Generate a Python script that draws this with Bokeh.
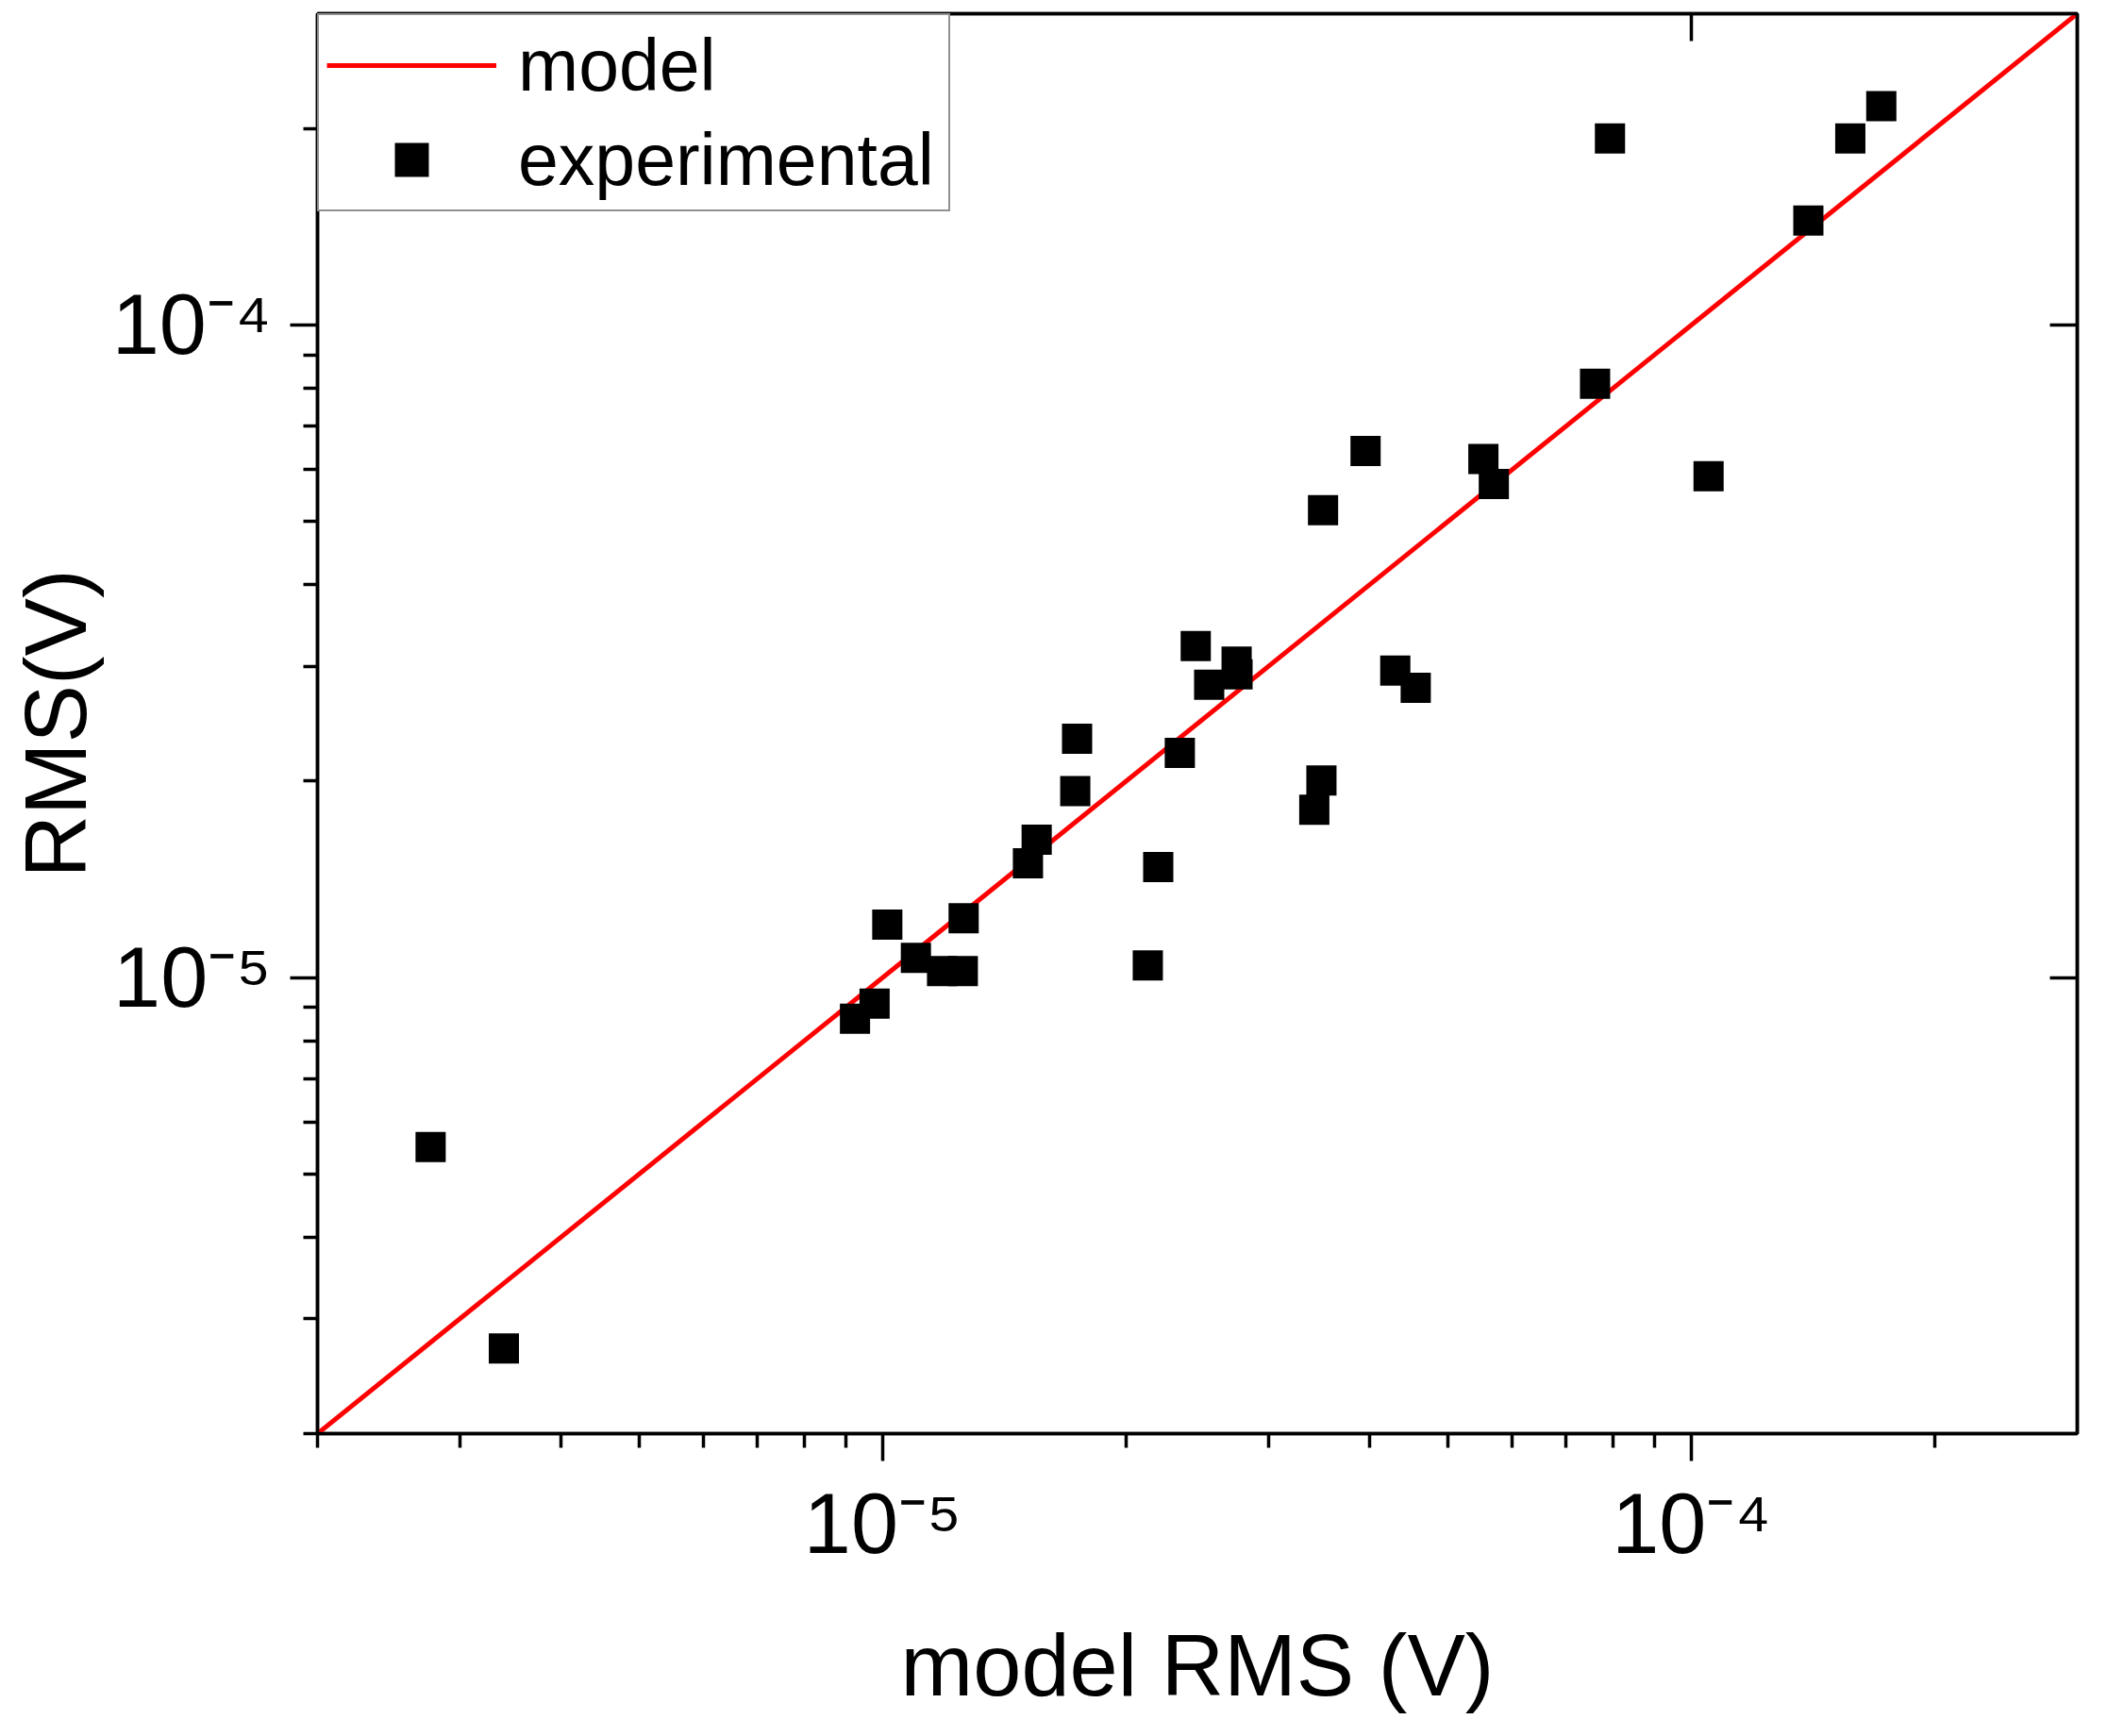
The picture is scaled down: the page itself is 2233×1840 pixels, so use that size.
from bokeh.plotting import figure
from bokeh.models import (Range1d, LogAxis, LogScale, FixedTicker, CustomJSTickFormatter,
                          Legend, LegendItem)
from bokeh.embed import file_html
from bokeh.resources import INLINE

# ---------------- data ----------------
model_x = [2e-6, 3e-4]
model_y = [2e-6, 3e-4]

exp_model_rms = [2.76e-6, 3.40e-6, 9.24e-6, 9.77e-6, 1.013e-5, 1.099e-5, 1.184e-5,
                 1.256e-5, 1.259e-5, 1.512e-5, 1.55e-5, 1.73e-5, 1.739e-5, 2.127e-5,
                 2.191e-5, 2.33e-5, 2.438e-5, 2.533e-5, 2.739e-5, 2.746e-5, 3.417e-5,
                 3.487e-5, 3.503e-5, 3.954e-5, 4.303e-5, 4.561e-5, 5.53e-5, 5.697e-5,
                 7.6e-5, 7.93e-5, 1.05e-4, 1.395e-4, 1.572e-4, 1.717e-4]
exp_rms = [5.50e-6, 2.70e-6, 8.65e-6, 9.12e-6, 1.205e-5, 1.072e-5, 1.023e-5,
           1.023e-5, 1.233e-5, 1.497e-5, 1.627e-5, 1.93e-5, 2.323e-5, 1.044e-5,
           1.477e-5, 2.21e-5, 3.22e-5, 2.81e-5, 3.05e-5, 2.914e-5, 1.808e-5,
           2.004e-5, 5.203e-5, 6.41e-5, 2.953e-5, 2.779e-5, 6.23e-5, 5.706e-5,
           8.13e-5, 1.932e-4, 5.866e-5, 1.446e-4, 1.932e-4, 2.164e-4]

axis_min = 2e-6
axis_max = 3e-4
major_tick_values = [1e-5, 1e-4]
major_tick_labels = ["10\u207b\u2075", "10\u207b\u2074"]
minor_multipliers = [2, 3, 4, 5, 6, 7, 8, 9]
minor_decades = [1e-6, 1e-5, 1e-4]

x_label = "model RMS (V)"
y_label = "RMS(V)"
legend_labels = ["model", "experimental"]

FONT = "Liberation Sans"

minor_ticks = [m * d for d in minor_decades for m in minor_multipliers
               if axis_min * 0.999 <= m * d <= axis_max * 1.001]

# ---------------- figure ----------------
p = figure(width=2217, height=1824, x_axis_type=None, y_axis_type=None,
           x_range=Range1d(axis_min, axis_max), y_range=Range1d(axis_min, axis_max),
           output_backend="svg", toolbar_location=None,
           min_border_left=336, min_border_right=16, min_border_top=14,
           min_border_bottom=305)
p.x_scale = LogScale()
p.y_scale = LogScale()
p.background_fill_color = "white"
p.border_fill_color = "white"
p.outline_line_color = "black"
p.outline_line_width = 3.5

label_fmt = CustomJSTickFormatter(args=dict(vals=major_tick_values, labs=major_tick_labels),
                                  code="""
for (let i = 0; i < vals.length; i++) {
  if (Math.abs(tick / vals[i] - 1) < 1e-6) { return labs[i]; }
}
return '';
""")
empty_fmt = CustomJSTickFormatter(code="return '';")


def make_axis(labeled, title=None):
    ax = LogAxis(ticker=FixedTicker(ticks=major_tick_values,
                                    minor_ticks=minor_ticks if labeled else []),
                 formatter=label_fmt if labeled else empty_fmt)
    ax.axis_line_color = "black"
    ax.axis_line_width = 3.5
    ax.major_tick_line_color = "black"
    ax.major_tick_line_width = 3.5
    ax.minor_tick_line_color = "black"
    ax.minor_tick_line_width = 3.5
    if labeled:
        ax.major_tick_out = 29
        ax.major_tick_in = 0
        ax.minor_tick_out = 15
        ax.minor_tick_in = 0
        ax.major_label_text_font = FONT
        ax.major_label_text_font_size = "90px"
        ax.major_label_text_color = "black"
        ax.axis_label = title
        ax.axis_label_text_font = FONT
        ax.axis_label_text_font_size = "92px"
        ax.axis_label_text_font_style = "normal"
        ax.axis_label_text_color = "black"
    else:
        ax.major_tick_out = 0
        ax.major_tick_in = 29
        ax.minor_tick_out = 0
        ax.minor_tick_in = 0
        ax.major_label_standoff = 0
        ax.major_label_text_font_size = "1px"
    return ax


xb = make_axis(True, x_label)
xb.major_label_standoff = 16
xb.axis_label_standoff = 46
yl = make_axis(True, y_label)
yl.major_label_standoff = 20
yl.axis_label_standoff = 6
xt = make_axis(False)
yr = make_axis(False)

p.add_layout(xb, "below")
p.add_layout(yl, "left")
p.add_layout(xt, "above")
p.add_layout(yr, "right")

line_r = p.line(model_x, model_y, line_color="#ff0000", line_width=5)
pts_r = p.scatter(exp_model_rms, exp_rms, marker="square", size=32,
                  fill_color="black", line_color="black", line_width=0)

legend = Legend(items=[LegendItem(label=legend_labels[0], renderers=[line_r]),
                       LegendItem(label=legend_labels[1], renderers=[pts_r])],
                location="top_left", margin=0, padding=8, spacing=10,
                glyph_width=180, glyph_height=90, label_standoff=23,
                label_width=448, label_text_font=FONT, label_text_font_size="77px",
                label_text_color="black", border_line_color="#222222",
                border_line_width=2, background_fill_color="white",
                background_fill_alpha=1.0)
p.add_layout(legend, "center")

open("out.html", "w").write(file_html(p, INLINE))
